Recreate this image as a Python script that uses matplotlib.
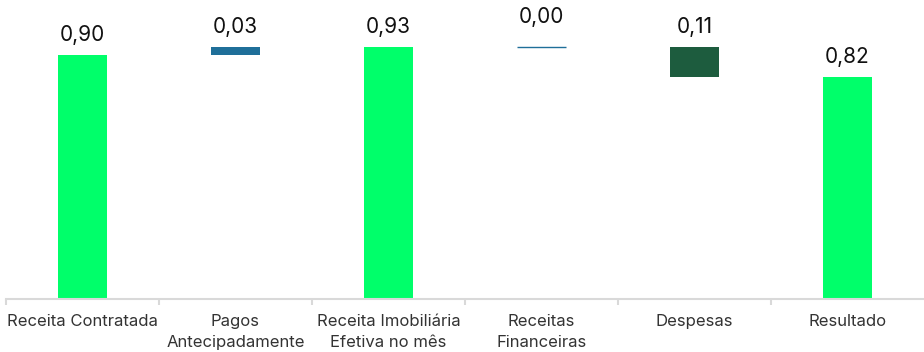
import numpy as np
import matplotlib.pyplot as plt

categorias = ['Receita Contratada', 'Pagos\nAntecipadamente', 'Receita Imobiliária\nEfetiva no mês',
              'Receitas\nFinanceiras', 'Despesas', 'Resultado']
valores = [0.90, 0.03, 0.93, 0.00, -0.11, 0.82]
tipo = ['total', 'delta', 'total', 'delta', 'delta', 'total']

VERDE = '#00ff6a'
AZUL = '#1f6f99'
VERDE_ESC = '#1d5c3e'

plt.rcParams['font.family'] = ['Inter', 'DejaVu Sans']

fig = plt.figure(figsize=(9.24, 3.52), dpi=100)
ax = fig.add_axes([6 / 924, 53 / 352, 918 / 924, 299 / 352])

x = np.arange(len(categorias))
acum = 0.0
for i, (v, t) in enumerate(zip(valores, tipo)):
    if t == 'total':
        base, alt, cor = 0, v, VERDE
        acum = v
        topo = v
    else:
        if v >= 0:
            base, alt, cor = acum, v, AZUL
        else:
            base, alt, cor = acum + v, -v, VERDE_ESC
        topo = acum + max(v, 0)
        acum += v
    if alt == 0:
        ax.hlines(base, i - 0.16, i + 0.16, color=AZUL, lw=1)
    else:
        ax.bar(i, alt, bottom=base, width=0.315, color=cor)
    ax.annotate(f'{abs(v):.2f}'.replace('.', ','), (i, topo), xytext=(0, 7 if alt else 14),
                textcoords='offset points', ha='center', va='bottom', fontsize=15, color='#111111')

ax.set_xlim(-0.5, 5.5)
ax.set_ylim(0, 1.103)
ax.set_yticks([])
for s in ['top', 'right', 'left']:
    ax.spines[s].set_visible(False)
ax.spines['bottom'].set_color('#d9d9d9')
ax.spines['bottom'].set_linewidth(1.5)

ax.set_xticks(x)
ax.set_xticklabels(categorias, fontsize=12, color='#333333', linespacing=1.45)
ax.tick_params(axis='x', which='major', length=0, pad=11)
ax.set_xticks(np.arange(-0.5, 5.5, 1), minor=True)
ax.tick_params(axis='x', which='minor', length=4, width=1.5, color='#d9d9d9')

fig.savefig('out.png', dpi=100)
